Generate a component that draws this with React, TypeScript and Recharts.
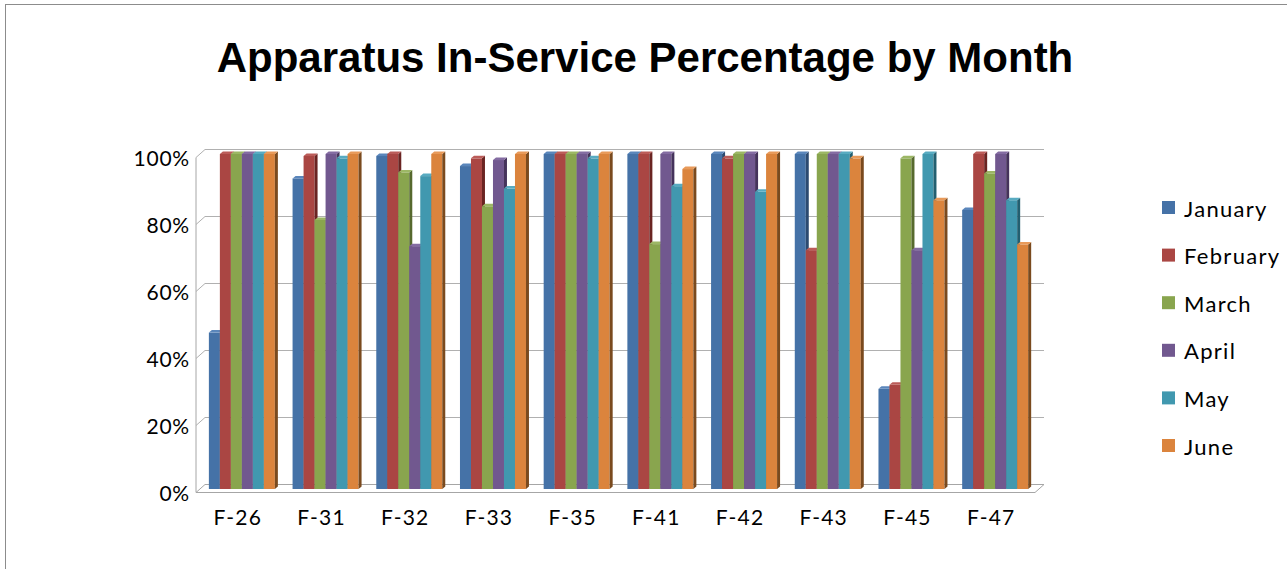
import React from "react"
import { BarChart, Bar, XAxis, YAxis, CartesianGrid } from "recharts"

const categories = ["F-26", "F-31", "F-32", "F-33", "F-35", "F-41", "F-42", "F-43", "F-45", "F-47"]
const january = [46.7, 92.7, 99.4, 96.4, 100, 100, 100, 100, 29.9, 83.3]
const february = [100, 99.4, 100, 98.7, 100, 100, 98.7, 71.3, 31.1, 100]
const march = [100, 80.3, 94.5, 84.4, 100, 73.1, 100, 100, 98.7, 94.2]
const april = [100, 100, 72.5, 98.2, 100, 100, 100, 100, 71.3, 100]
const may = [100, 98.7, 93.4, 89.7, 98.7, 90.4, 88.7, 100, 100, 86.2]
const june = [100, 100, 100, 100, 100, 95.5, 100, 98.7, 86.2, 73]
const yTicks = [0, 20, 40, 60, 80, 100]

const months = [
  { key: "January", values: january, front: "#4572a7", side: "#2c4a70", top: "#5a86bb" },
  { key: "February", values: february, front: "#aa4643", side: "#6a2422", top: "#bb5c59" },
  { key: "March", values: march, front: "#89a54e", side: "#56692e", top: "#9cb765" },
  { key: "April", values: april, front: "#71588f", side: "#45335b", top: "#846ca2" },
  { key: "May", values: may, front: "#4198af", side: "#235f70", top: "#58abc1" },
  { key: "June", values: june, front: "#db843d", side: "#7a4a1e", top: "#e89a5a" },
]

const data = categories.map((name, i) => {
  const row: Record<string, string | number> = { name }
  months.forEach((m) => {
    row[m.key] = m.values[i]
  })
  return row
})

const FONT = "Lato, 'Open Sans', sans-serif"
const DX = 3
const DY = 2.5

// eslint-disable-next-line @typescript-eslint/no-explicit-any
function Bar3D(props: any) {
  const { x, y, width, height, front, side, top } = props
  if (!height || height <= 0) return null
  return (
    <g>
      <rect x={x} y={y} width={width} height={height} fill={front} />
      <polygon
        points={`${x + width},${y} ${x + width + DX},${y - DY} ${x + width + DX},${y + height - DY} ${x + width},${y + height}`}
        fill={side}
      />
      <polygon
        points={`${x},${y} ${x + DX},${y - DY} ${x + width + DX},${y - DY} ${x + width},${y}`}
        fill={top}
      />
    </g>
  )
}

// eslint-disable-next-line @typescript-eslint/no-explicit-any
function GridLine(props: any) {
  const { x1, x2, y1, y, height, index } = props
  const bottom = y + height
  const isFloor = Math.abs(y1 - bottom) < 1
  if (isFloor) {
    return (
      <g key={`grid-${index}`}>
        <polygon
          points={`${x1 - 4},${y1 + 3.5} ${x2 - 2},${y1 + 3.5} ${x2 + 7},${y1 - 4.5} ${x1 + 5},${y1 - 4.5}`}
          fill="#ffffff"
          stroke="#a6a6a6"
          strokeWidth={1}
        />
        <line x1={x1 - 4} y1={y + 3.5} x2={x1 - 4} y2={y1 + 3.5} stroke="#a6a6a6" strokeWidth={1} />
      </g>
    )
  }
  return (
    <path
      key={`grid-${index}`}
      d={`M${x1 - 4},${y1 + 3.5} L${x1 + 5},${y1 - 4.5} L${x2 + 7},${y1 - 4.5}`}
      fill="none"
      stroke="#b0b0b0"
      strokeWidth={1}
    />
  )
}

// eslint-disable-next-line @typescript-eslint/no-explicit-any
function YTick(props: any) {
  const { x, y, payload } = props
  return (
    <text
      x={x - 2}
      y={y + 3.5}
      textAnchor="end"
      dominantBaseline="central"
      fontFamily={FONT}
      fontSize={21}
      letterSpacing={0.8}
      fill="#000"
    >
      {`${payload.value}%`}
    </text>
  )
}

// eslint-disable-next-line @typescript-eslint/no-explicit-any
function XTick(props: any) {
  const { x, y, payload } = props
  return (
    <text
      x={x - 4}
      y={y + 28}
      textAnchor="middle"
      fontFamily={FONT}
      fontSize={21}
      letterSpacing={1.2}
      fill="#000"
    >
      {payload.value}
    </text>
  )
}

export default function App() {
  return (
    <div style={{ position: "absolute", left: 0, top: 0, width: 1287, height: 569, background: "#fff", overflow: "hidden" }}>
      <div
        style={{
          position: "absolute",
          left: 5,
          top: 4,
          width: 1300,
          height: 600,
          border: "1px solid #8c8c8c",
          boxSizing: "border-box",
        }}
      />
      <div style={{ position: "absolute", left: 0, top: 0 }}>
        <BarChart
          width={1287}
          height={569}
          data={data}
          margin={{ top: 154, right: 250, bottom: 40, left: 140 }}
          barGap={0}
          barCategoryGap="10.6%"
        >
          <CartesianGrid vertical={false} horizontal={(p: any) => <GridLine {...p} />} />
          <XAxis dataKey="name" axisLine={false} tickLine={false} height={40} interval={0} tick={<XTick />} />
          <YAxis
            domain={[0, 100]}
            ticks={yTicks}
            axisLine={false}
            tickLine={false}
            width={60}
            tick={<YTick />}
          />
          {months.map((m) => (
            <Bar
              key={m.key}
              dataKey={m.key}
              fill={m.front}
              isAnimationActive={false}
              shape={(p: any) => <Bar3D {...p} front={m.front} side={m.side} top={m.top} />}
            />
          ))}
        </BarChart>
      </div>
      <svg width={1287} height={569} style={{ position: "absolute", left: 0, top: 0, pointerEvents: "none" }}>
        <text
          x={645}
          y={72}
          textAnchor="middle"
          fontFamily="'Liberation Sans', Arial, sans-serif"
          fontWeight="bold"
          fontSize={42}
          fill="#000"
        >
          Apparatus In-Service Percentage by Month
        </text>
        {months.map((m, i) => (
          <g key={m.key}>
            <rect x={1162} y={201 + i * 47.6} width={13} height={13} fill={m.front} />
            <text
              x={1184}
              y={208 + i * 47.6}
              dominantBaseline="central"
              fontFamily={FONT}
              fontSize={22}
              letterSpacing={1.3}
              fill="#000"
            >
              {m.key}
            </text>
          </g>
        ))}
      </svg>
    </div>
  )
}
